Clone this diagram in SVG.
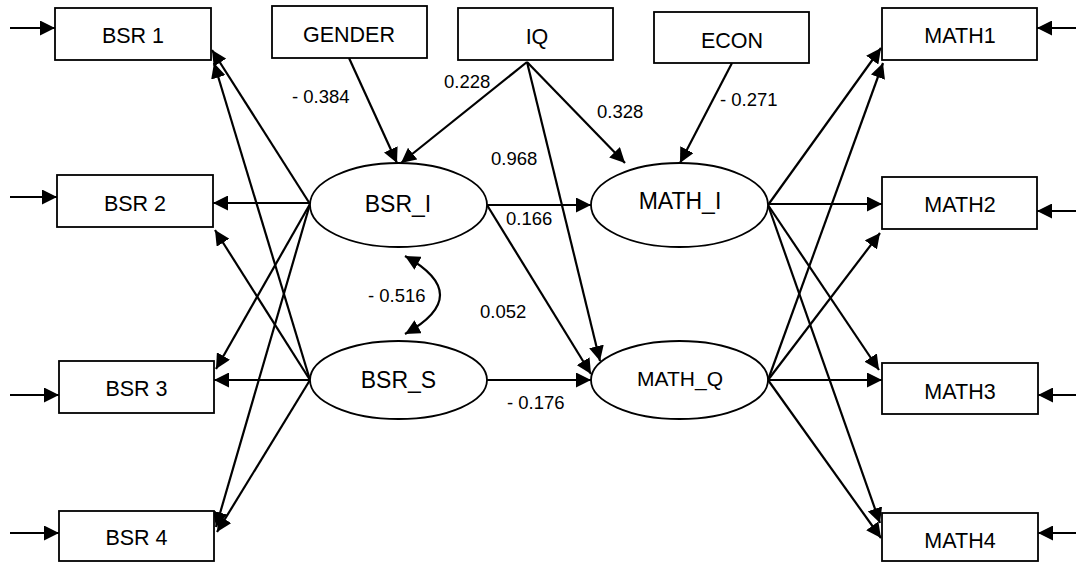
<svg xmlns="http://www.w3.org/2000/svg" width="1076" height="562" viewBox="0 0 1076 562">
<style>
.box{fill:#fff;stroke:#000;stroke-width:1.8}
.ell{fill:#fff;stroke:#000;stroke-width:1.8}
.lbl{font-family:"Liberation Sans",Arial,sans-serif;font-size:21.5px;fill:#000;text-anchor:middle}
.big{font-family:"Liberation Sans",Arial,sans-serif;font-size:23px;fill:#000;text-anchor:middle}
.coef{font-family:"Liberation Sans",Arial,sans-serif;font-size:18.5px;fill:#000}
#connectors line,#connectors path{stroke:#000;stroke-width:2.2;fill:none;marker-end:url(#ah)}
</style>
<defs>
<marker id="ah" viewBox="0 0 15 15" markerWidth="15" markerHeight="15" refX="15" refY="7.5" orient="auto" markerUnits="userSpaceOnUse"><path d="M0,0 L15,7.5 L0,15 z" fill="#000"/></marker>
<marker id="ahs" viewBox="0 0 15 15" markerWidth="15" markerHeight="15" refX="15" refY="7.5" orient="auto-start-reverse" markerUnits="userSpaceOnUse"><path d="M0,0 L15,7.5 L0,15 z" fill="#000"/></marker>
</defs>
<rect width="1076" height="562" fill="#fff"/>
<g id="connectors">
<line x1="10" y1="28" x2="55" y2="28"/>
<line x1="10" y1="197" x2="57" y2="197"/>
<line x1="10" y1="395" x2="59" y2="395"/>
<line x1="10" y1="533" x2="59" y2="533"/>
<line x1="1076" y1="28" x2="1037" y2="28"/>
<line x1="1076" y1="211" x2="1037" y2="211"/>
<line x1="1076" y1="395" x2="1038" y2="395"/>
<line x1="1076" y1="533" x2="1038" y2="533"/>
<line x1="310" y1="204" x2="212" y2="50"/>
<line x1="310" y1="203" x2="213" y2="203"/>
<line x1="310" y1="204" x2="216" y2="369"/>
<line x1="310" y1="204" x2="216" y2="527"/>
<line x1="310" y1="380" x2="214" y2="63"/>
<line x1="310" y1="380" x2="215" y2="230"/>
<line x1="310" y1="380" x2="214" y2="380"/>
<line x1="310" y1="380" x2="217" y2="532"/>
<line x1="349" y1="58" x2="397" y2="163"/>
<line x1="527" y1="62" x2="401" y2="163"/>
<line x1="527" y1="62" x2="625" y2="163"/>
<line x1="527" y1="62" x2="600" y2="361"/>
<line x1="732" y1="63" x2="680" y2="163"/>
<line x1="487" y1="205" x2="591" y2="205"/>
<line x1="487" y1="205" x2="591" y2="374"/>
<line x1="487" y1="380" x2="591" y2="380"/>
<line x1="768" y1="205" x2="881" y2="48"/>
<line x1="768" y1="204" x2="882" y2="204"/>
<line x1="768" y1="205" x2="879" y2="370"/>
<line x1="768" y1="205" x2="880" y2="523"/>
<line x1="768" y1="380" x2="883" y2="63"/>
<line x1="768" y1="380" x2="880" y2="233"/>
<line x1="768" y1="380" x2="882" y2="380"/>
<line x1="768" y1="380" x2="881" y2="538"/>
<path d="M405,256 Q475,295 405,334" style="marker-start:url(#ahs)"/>
</g>
<g id="BSR1"><rect class="box" x="55" y="8" width="156" height="52"/><text class="lbl" x="133" y="43">BSR 1</text></g>
<g id="BSR2"><rect class="box" x="57" y="175" width="156" height="52"/><text class="lbl" x="135" y="211">BSR 2</text></g>
<g id="BSR3"><rect class="box" x="59" y="361" width="155" height="52"/><text class="lbl" x="136.5" y="396">BSR 3</text></g>
<g id="BSR4"><rect class="box" x="59" y="511" width="155" height="50"/><text class="lbl" x="136.5" y="545">BSR 4</text></g>
<g id="GENDER"><rect class="box" x="272" y="6" width="155" height="52"/><text class="lbl" x="349" y="42">GENDER</text></g>
<g id="IQ"><rect class="box" x="458" y="8" width="155" height="52"/><text class="lbl" x="537" y="44">IQ</text></g>
<g id="ECON"><rect class="box" x="654" y="12" width="155" height="51"/><text class="lbl" x="732" y="48">ECON</text></g>
<g id="MATH1"><rect class="box" x="882" y="8" width="155" height="52"/><text class="lbl" x="960" y="43">MATH1</text></g>
<g id="MATH2"><rect class="box" x="882" y="177" width="155" height="52"/><text class="lbl" x="960" y="212">MATH2</text></g>
<g id="MATH3"><rect class="box" x="882" y="363" width="156" height="51"/><text class="lbl" x="960" y="399">MATH3</text></g>
<g id="MATH4"><rect class="box" x="882" y="513" width="156" height="48"/><text class="lbl" x="960" y="548">MATH4</text></g>
<g id="BSR_I"><ellipse class="ell" cx="398.5" cy="205" rx="88.5" ry="42"/><text class="big" x="398" y="212">BSR_I</text></g>
<g id="BSR_S"><ellipse class="ell" cx="398.5" cy="380" rx="88.5" ry="39"/><text class="big" x="398.5" y="388">BSR_S</text></g>
<g id="MATH_I"><ellipse class="ell" cx="679.5" cy="205" rx="88.5" ry="42"/><text class="big" x="680" y="209">MATH_I</text></g>
<g id="MATH_Q"><ellipse class="ell" cx="679.5" cy="380" rx="88.5" ry="39"/><text class="big" x="680" y="386" style="font-size:21px">MATH_Q</text></g>
<g id="labels">
<text class="coef" x="292" y="103">- 0.384</text>
<text class="coef" x="444" y="88">0.228</text>
<text class="coef" x="491" y="165">0.968</text>
<text class="coef" x="597" y="118">0.328</text>
<text class="coef" x="720" y="106">- 0.271</text>
<text class="coef" x="506" y="225">0.166</text>
<text class="coef" x="368" y="302">- 0.516</text>
<text class="coef" x="480" y="318">0.052</text>
<text class="coef" x="507" y="409">- 0.176</text>
</g>
</svg>
